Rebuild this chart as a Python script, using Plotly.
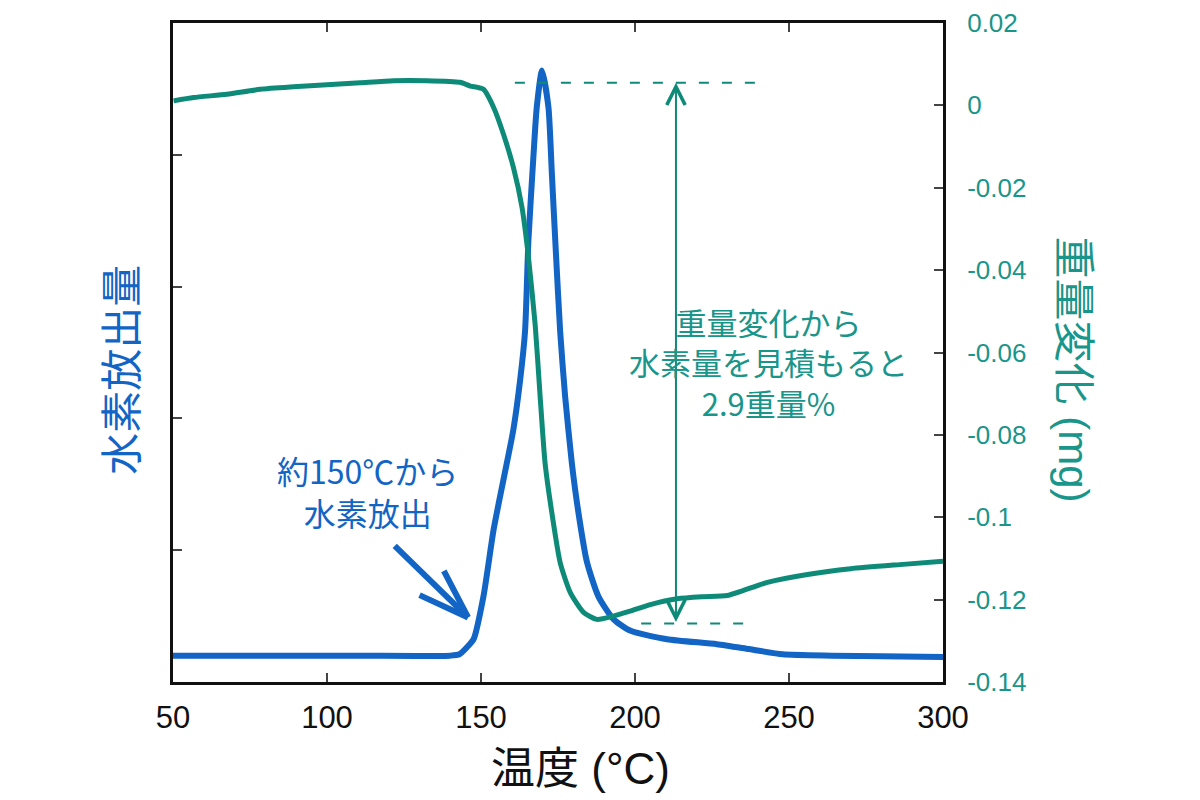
import plotly.graph_objects as go

# 温度 (°C) と 水素放出量 (任意単位)
blue_x = [50, 80, 110, 140, 143, 145.5, 147.6, 150.8, 154.1, 157.3, 160.5, 162.7, 164.3, 165.4,
          167, 168.1, 169.8, 171.9, 173, 174.4, 175.7, 177.3, 179.5, 181.6, 184.4, 188.1, 193,
          198.4, 210.4, 226.6, 237, 248, 264, 280, 300]
blue_y = [0.20, 0.20, 0.20, 0.20, 0.21, 0.265, 0.325, 0.65, 1.157, 1.536, 1.914, 2.29, 2.66, 3.35,
          3.98, 4.36, 4.64, 4.36, 3.86, 3.22, 2.66, 2.17, 1.66, 1.29, 0.91, 0.65, 0.477,
          0.39, 0.325, 0.287, 0.25, 0.21, 0.20, 0.195, 0.19]

# 温度 (°C) と 重量変化 (mg)
green_x = [50.2, 56.7, 67.5, 78.3, 89.1, 100, 110.8, 121.6, 132.4, 143.2, 146.5, 150.8, 154.1,
           157.3, 160.5, 163.3, 165.4, 167.6, 169.2, 170.8, 173, 175.7, 179, 183.3, 187.6, 193,
           198.4, 205, 213.7, 222, 230, 243, 256, 270, 286, 300]
green_y = [0.0011, 0.0019, 0.0027, 0.0039, 0.0045, 0.005, 0.0055, 0.006, 0.006, 0.0056, 0.0047,
           0.0039, -0.0005, -0.007, -0.015, -0.0247, -0.0368, -0.0534, -0.0707, -0.0868, -0.0989,
           -0.111, -0.1183, -0.1231, -0.1248, -0.124, -0.1228, -0.1212, -0.1198, -0.1193, -0.119,
           -0.1158, -0.1139, -0.1125, -0.1115, -0.1107]

x_ticks = [50, 100, 150, 200, 250, 300]
y2_ticks = [-0.14, -0.12, -0.1, -0.08, -0.06, -0.04, -0.02, 0, 0.02]
y2_labels = ["-0.14", "-0.12", "-0.1", "-0.08", "-0.06", "-0.04", "-0.02", "0", "0.02"]

# 重量変化の上端・下端 (破線) と矢印の位置
top_dash_x = [161, 240]
top_level = 0.0055
bottom_dash_x = [202, 237.5]
bottom_level = -0.1258
arrow_x = 213.3

# 約150℃ の矢印 (先端と根元)
onset_tip = (145.8, 0.49)
onset_tail = (121.5, 1.044)

blue = "#1265c4"
green = "#0e8a78"
teal_text = "#1a958a"
jp = "Liberation Sans, Noto Sans CJK JP"

fig = go.Figure()
fig.add_trace(go.Scatter(x=blue_x, y=blue_y, mode="lines",
                         line=dict(color=blue, width=6, shape="spline", smoothing=0.6),
                         name="水素放出量", yaxis="y"))
fig.add_trace(go.Scatter(x=green_x, y=green_y, mode="lines",
                         line=dict(color=green, width=5, shape="spline", smoothing=0.6),
                         name="重量変化", yaxis="y2"))
fig.add_trace(go.Scatter(x=top_dash_x, y=[top_level, top_level], mode="lines",
                         line=dict(color=green, width=2, dash="10px,13px"), yaxis="y2"))
fig.add_trace(go.Scatter(x=bottom_dash_x, y=[bottom_level, bottom_level], mode="lines",
                         line=dict(color=green, width=2, dash="10px,13px"), yaxis="y2"))

# 両矢印
fig.add_annotation(x=arrow_x, y=top_level, ax=arrow_x, ay=bottom_level, xref="x", yref="y2",
                   axref="x", ayref="y2", text="", showarrow=True, arrowside="end+start",
                   arrowhead=5, startarrowhead=5, arrowsize=1.8, startarrowsize=1.8,
                   arrowwidth=2, arrowcolor=green, standoff=0, startstandoff=0)
fig.add_annotation(x=243.2, y=-0.0623, xref="x", yref="y2", showarrow=False,
                   text="重量変化から<br>水素量を見積もると<br>2.9重量%",
                   font=dict(family="Noto Sans CJK JP", size=31, color=teal_text))

# 約150℃ の矢印: 軸 + 開いた矢じり (2本の羽)
fig.add_annotation(x=onset_tip[0], y=onset_tip[1], ax=onset_tail[0], ay=onset_tail[1],
                   xref="x", yref="y", axref="x", ayref="y", text="", showarrow=True,
                   arrowhead=0, arrowwidth=6, arrowcolor=blue, standoff=0)
for wx, wy in [(-50, -23), (-25, -48)]:
    fig.add_annotation(x=onset_tip[0], y=onset_tip[1], ax=wx, ay=wy, xref="x", yref="y",
                       text="", showarrow=True, arrowhead=0, arrowwidth=6, arrowcolor=blue,
                       standoff=0)
fig.add_annotation(x=113.2, y=1.447, xref="x", yref="y", showarrow=False,
                   text="約150℃から<br>水素放出",
                   font=dict(family="Noto Sans CJK JP", size=32, color=blue))

# 軸タイトル
fig.add_annotation(x=0.529, y=-0.132, xref="paper", yref="paper", showarrow=False,
                   xanchor="center", yanchor="middle",
                   text="温度 (°C)", font=dict(size=44, color="#111111"))
fig.add_annotation(x=-0.066, y=0.474, xref="paper", yref="paper", showarrow=False,
                   xanchor="center", yanchor="middle",
                   text="水素放出量", textangle=-90, font=dict(size=42, color=blue))
fig.add_annotation(x=1.169, y=0.474, xref="paper", yref="paper", showarrow=False,
                   xanchor="center", yanchor="middle",
                   text="重量変化 (mg)", textangle=90, font=dict(size=42, color=teal_text))

fig.update_layout(
    width=1200, height=800,
    margin=dict(l=165, r=265, t=15, b=126),
    plot_bgcolor="white", paper_bgcolor="white",
    showlegend=False,
    font=dict(family=jp, color="#111111"),
    xaxis=dict(range=[50, 300], tickvals=x_ticks, ticks="inside", ticklen=9, tickwidth=2,
               showline=True, linewidth=3, linecolor="#111111", mirror="ticks",
               showgrid=False, zeroline=False, tickfont=dict(size=31), ticklabelstandoff=6,
               automargin=False),
    yaxis=dict(range=[0, 5], dtick=1, ticks="inside", ticklen=9, tickwidth=2,
               showticklabels=False, showline=True, linewidth=3, linecolor="#111111",
               showgrid=False, zeroline=False, automargin=False),
    yaxis2=dict(range=[-0.14, 0.02], overlaying="y", side="right", tickvals=y2_ticks,
                ticktext=y2_labels, ticks="inside", ticklen=9, tickwidth=2,
                showline=True, linewidth=3, linecolor="#111111", showgrid=False, zeroline=False,
                tickfont=dict(size=26, color=teal_text), ticklabelstandoff=16, automargin=False),
)

fig.write_html("out.html")
